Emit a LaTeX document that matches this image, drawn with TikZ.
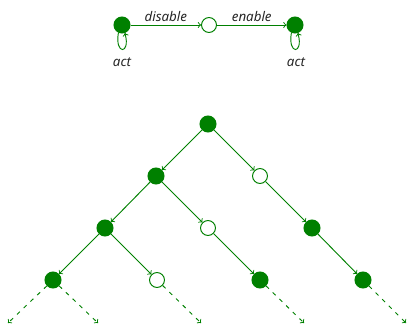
\documentclass[tikz,border=0pt]{standalone}
\usepackage{fontspec}
\setmainfont{Noto Sans}
\definecolor{dg}{RGB}{0,128,0}
\begin{document}
\begin{tikzpicture}[x=0.75pt,y=-0.75pt,
  full/.style={circle,fill=dg,draw=dg,minimum size=12pt,inner sep=0pt,line width=0.75pt},
  empty/.style={circle,fill=white,draw=dg,minimum size=11.2pt,inner sep=0pt,line width=0.75pt},
  arr/.style={->,draw=dg,line width=0.7pt},
  darr/.style={arr,dashed,dash pattern=on 3pt off 4pt},
  lbl/.style={font=\itshape\fontsize{10pt}{12pt}\selectfont,text=black!85}]
\useasboundingbox (0,0) rectangle (408,325);
% top automaton
\node[full] (s1) at (122,25) {};
\node[empty] (s2) at (209,25) {};
\node[full] (s3) at (295,25) {};
\draw[arr] (s1) -- node[lbl,above=-1pt] {disable} (s2);
\draw[arr] (s2) -- node[lbl,above=-1pt] {enable} (s3);
\draw[arr] (s1.-115) .. controls +(-100:17pt) and +(-75:17pt) .. (s1.-70);
\draw[arr] (s3.-115) .. controls +(-100:17pt) and +(-75:17pt) .. (s3.-70);
\node[lbl] (a1) at (122,62) {act};
\node[lbl] (a3) at (296,62) {act};
% tree
\node[full] (r) at (208,124) {};
\node[full] (l2a) at (156,176) {};
\node[empty] (l2b) at (260,176) {};
\node[full] (l3a) at (105,228) {};
\node[empty] (l3b) at (208,228) {};
\node[full] (l3c) at (312,228) {};
\node[full] (l4a) at (53,280) {};
\node[empty] (l4b) at (157,280) {};
\node[full] (l4c) at (260,280) {};
\node[full] (l4d) at (363,280) {};
\coordinate (e1) at (8,323);
\coordinate (e2) at (98,323);
\coordinate (e3) at (201,323);
\coordinate (e4) at (304,323);
\coordinate (e5) at (406,323);
\draw[arr] (r) -- (l2a);
\draw[arr] (r) -- (l2b);
\draw[arr] (l2a) -- (l3a);
\draw[arr] (l2a) -- (l3b);
\draw[arr] (l2b) -- (l3c);
\draw[arr] (l3a) -- (l4a);
\draw[arr] (l3a) -- (l4b);
\draw[arr] (l3b) -- (l4c);
\draw[arr] (l3c) -- (l4d);
\draw[darr] (l4a) -- (e1);
\draw[darr] (l4a) -- (e2);
\draw[darr] (l4b) -- (e3);
\draw[darr] (l4c) -- (e4);
\draw[darr] (l4d) -- (e5);
\end{tikzpicture}
\end{document}
